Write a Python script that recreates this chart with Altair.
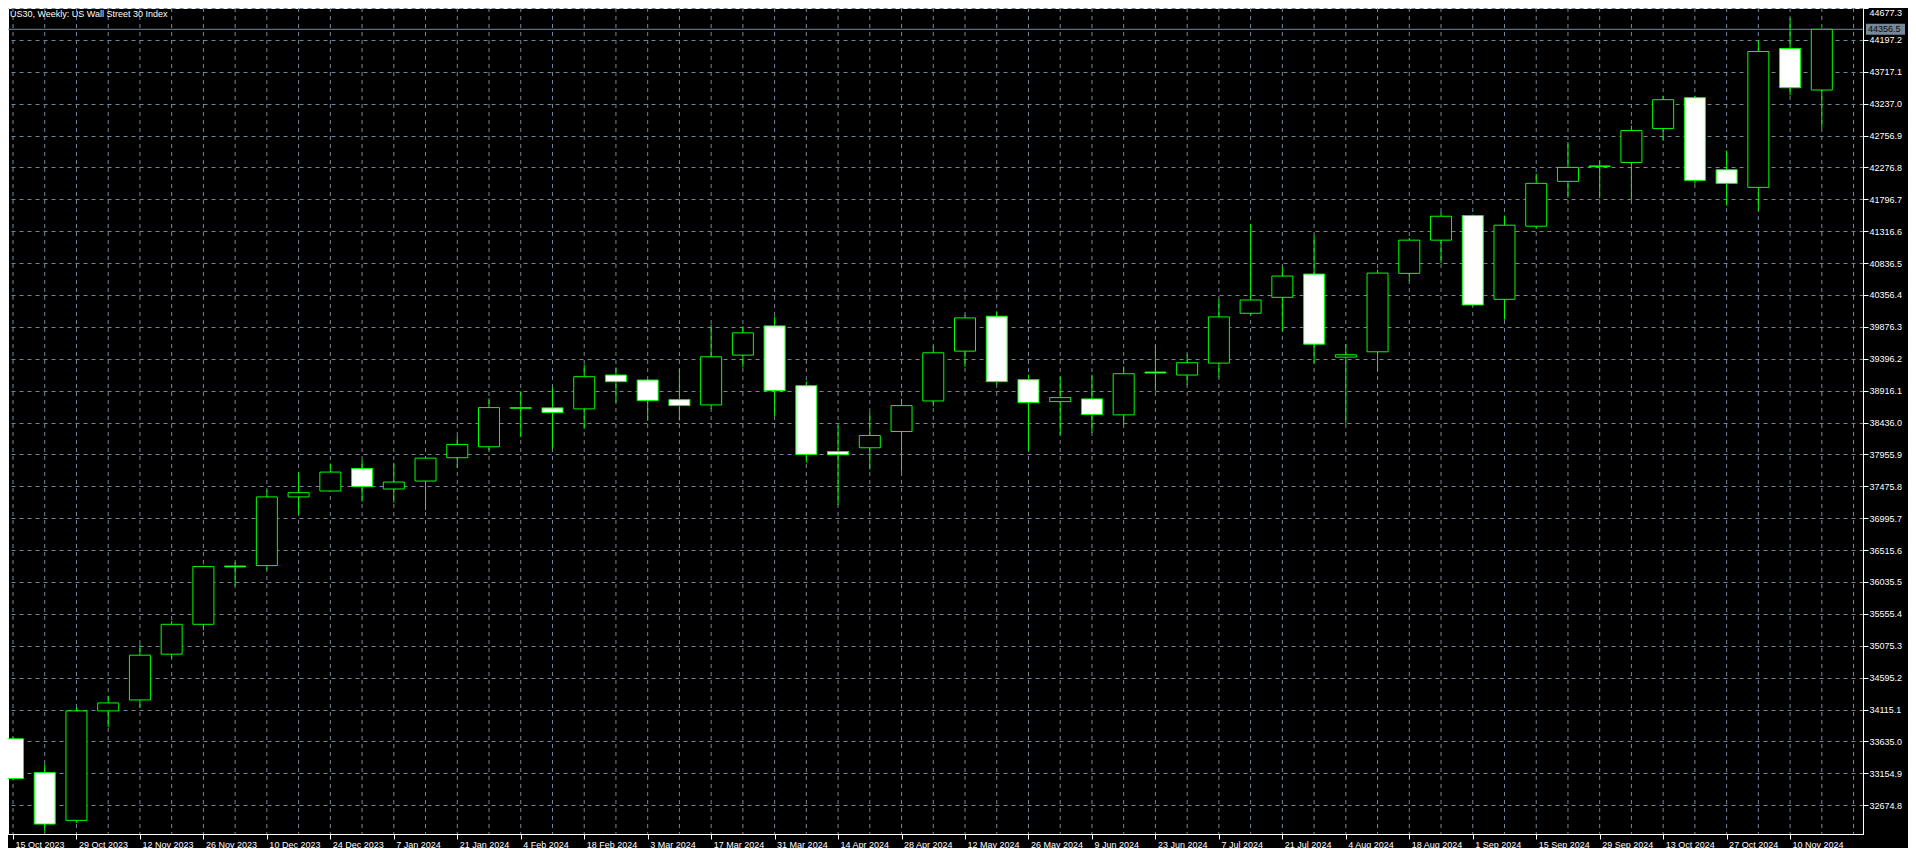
import json
import altair as alt
import pandas as pd

# ---- data ----
title_text = "US30, Weekly:  US Wall Street 30 Index"

tick_labels = [
    "15 Oct 2023", "29 Oct 2023", "12 Nov 2023", "26 Nov 2023", "10 Dec 2023",
    "24 Dec 2023", "7 Jan 2024", "21 Jan 2024", "4 Feb 2024", "18 Feb 2024",
    "3 Mar 2024", "17 Mar 2024", "31 Mar 2024", "14 Apr 2024", "28 Apr 2024",
    "12 May 2024", "26 May 2024", "9 Jun 2024", "23 Jun 2024", "7 Jul 2024",
    "21 Jul 2024", "4 Aug 2024", "18 Aug 2024", "1 Sep 2024", "15 Sep 2024",
    "29 Sep 2024", "13 Oct 2024", "27 Oct 2024", "10 Nov 2024",
]

price_ticks = [
    44677.3, 44197.2, 43717.1, 43237.0, 42756.9, 42276.8, 41796.7, 41316.6,
    40836.5, 40356.4, 39876.3, 39396.2, 38916.1, 38436.0, 37955.9, 37475.8,
    36995.7, 36515.6, 36035.5, 35555.4, 35075.3, 34595.2, 34115.1, 33635.0,
    33154.9, 32674.8,
]

opens = [
    33674, 33165, 32446, 34094, 34259, 34948, 35398, 36275, 36282, 37316,
    37405, 37744, 37435, 37555, 37906, 38071, 38650, 38656, 38641, 39151,
    39076, 38781, 38701, 39451, 39891, 38991, 38000, 38056, 38301, 38761,
    39511, 40036, 39081, 38751, 38791, 38551, 39196, 39151, 39331, 40081,
    40321, 40671, 39421, 39501, 40682, 41182, 41552, 40291, 41392, 42067,
    42290, 42352, 42862, 43327, 42242, 41977, 44067, 43442,
]
highs = [
    33700, 33290, 34148, 34323, 35098, 35447, 36280, 36331, 37420, 37684,
    37819, 37870, 37830, 37930, 38231, 38801, 38906, 38961, 39306, 39266,
    39090, 39246, 39911, 39886, 40031, 39056, 38391, 38591, 38791, 39591,
    40056, 40111, 39156, 39126, 39156, 39281, 39606, 39461, 40291, 41427,
    40781, 41251, 39616, 40741, 41216, 41607, 41567, 41552, 42182, 42657,
    42382, 42907, 43357, 43357, 42532, 44187, 44527, 44356.5,
]
lows = [
    33050, 32275, 32410, 33848, 34148, 34888, 35308, 35972, 36222, 37055,
    37400, 37245, 37230, 37115, 37751, 38016, 38216, 38041, 38341, 38736,
    38461, 38466, 38641, 39266, 38531, 37831, 37196, 37726, 37694, 38681,
    39276, 39006, 38017, 38251, 38281, 38401, 38911, 39001, 39116, 40051,
    39811, 39326, 38420, 39208, 40566, 40836, 40190, 39986, 41352, 41822,
    41812, 41792, 42677, 42032, 41702, 41627, 43362, 42872,
]
closes = [
    33075, 32390, 34094, 34214, 34933, 35398, 36267, 36262, 37316, 37380,
    37690, 37470, 37540, 37900, 38106, 38661, 38660, 38586, 39126, 39051,
    38766, 38691, 39426, 39786, 38916, 37956, 37951, 38241, 38691, 39486,
    40011, 39051, 38736, 38811, 38556, 39171, 39181, 39336, 40026, 40281,
    40641, 39616, 39456, 40686, 41182, 41542, 40206, 41407, 42037, 42277,
    42300, 42832, 43297, 42082, 42037, 44022, 43477, 44356.5,
]
bid_price = 44356.5

# ---- styling ----
W, H = 1855, 826
LIME = "#00FF00"
GRID = "#778899"
FONT = "Liberation Sans"
FS = 9

candles = pd.DataFrame({
    "i": list(range(len(opens))),
    "open": opens, "high": highs, "low": lows, "close": closes,
})
grid = pd.DataFrame({"i": list(range(len(opens) + 1))})
bid = pd.DataFrame({"bid": [bid_price], "label": [f"{bid_price:.1f}"]})

xs = alt.Scale(domain=[0, 58.14], nice=False, zero=False)
ys = alt.Scale(domain=[32240.6, 44677.3], nice=False, zero=False)

label_expr = json.dumps(tick_labels) + "[round(datum.value / 2)]"
xaxis = alt.Axis(
    values=list(range(0, 2 * len(tick_labels), 2)), labelExpr=label_expr,
    labelAlign="left", labelBaseline="top", labelOffset=2, labelPadding=1,
    labelColor="white", labelFont=FONT, labelFontSize=FS, labelFlush=False,
    labelOverlap=False, tickColor="white", tickSize=5, domainColor="white",
    grid=False, title=None,
)
yaxis = alt.Axis(
    orient="right", values=price_ticks, format=".1f",
    labelColor="white", labelFont=FONT, labelFontSize=FS, labelPadding=1,
    labelFlush=3, labelOverlap=False, tickColor="white", tickSize=5,
    domainColor="white", grid=True, gridColor=GRID, gridDash=[4, 4],
    gridWidth=1, gridOpacity=1, title=None,
)

X = alt.X("i:Q", scale=xs, axis=xaxis)

vgrid = alt.Chart(grid).mark_rule(color=GRID, strokeDash=[4, 4], strokeWidth=1).encode(x=X)

bidline = alt.Chart(bid).mark_rule(color=GRID, strokeWidth=1).encode(
    y=alt.Y("bid:Q", scale=ys, axis=yaxis)
)

wicks = alt.Chart(candles).mark_rule(color=LIME, strokeWidth=1, clip=True).encode(
    x=X, y=alt.Y("low:Q", scale=ys, axis=yaxis), y2="high:Q"
)

bodies = alt.Chart(candles).mark_bar(size=21, stroke=LIME, strokeWidth=1, clip=True).encode(
    x=X,
    y=alt.Y("open:Q", scale=ys, axis=yaxis),
    y2="close:Q",
    fill=alt.condition("datum.close > datum.open", alt.value("black"), alt.value("white")),
)

bidbox = alt.Chart(bid).mark_rule(color=GRID, strokeWidth=11).encode(
    x=alt.value(W + 3), x2=alt.value(W + 42), y=alt.Y("bid:Q", scale=ys, axis=yaxis)
)

bidtext = alt.Chart(bid).mark_text(
    align="left", baseline="middle", font=FONT, fontSize=FS, color="#0a0a0a"
).encode(x=alt.value(W + 5), y=alt.Y("bid:Q", scale=ys, axis=yaxis), text="label:N")

title = alt.Chart(bid).mark_text(
    align="left", baseline="top", font=FONT, fontSize=FS, color="white", text=title_text
).encode(x=alt.value(2), y=alt.value(2))

chart = alt.layer(vgrid, bidline, wicks, bodies, bidbox, bidtext, title).properties(
    width=W, height=H, background="black",
    padding={"left": 0, "top": 0, "right": 45, "bottom": 14},
    autosize=alt.AutoSizeParams(type="none"),
).configure_view(stroke="white", strokeWidth=1)

chart.save("out.html", embed_options={"renderer": "svg", "actions": False})
